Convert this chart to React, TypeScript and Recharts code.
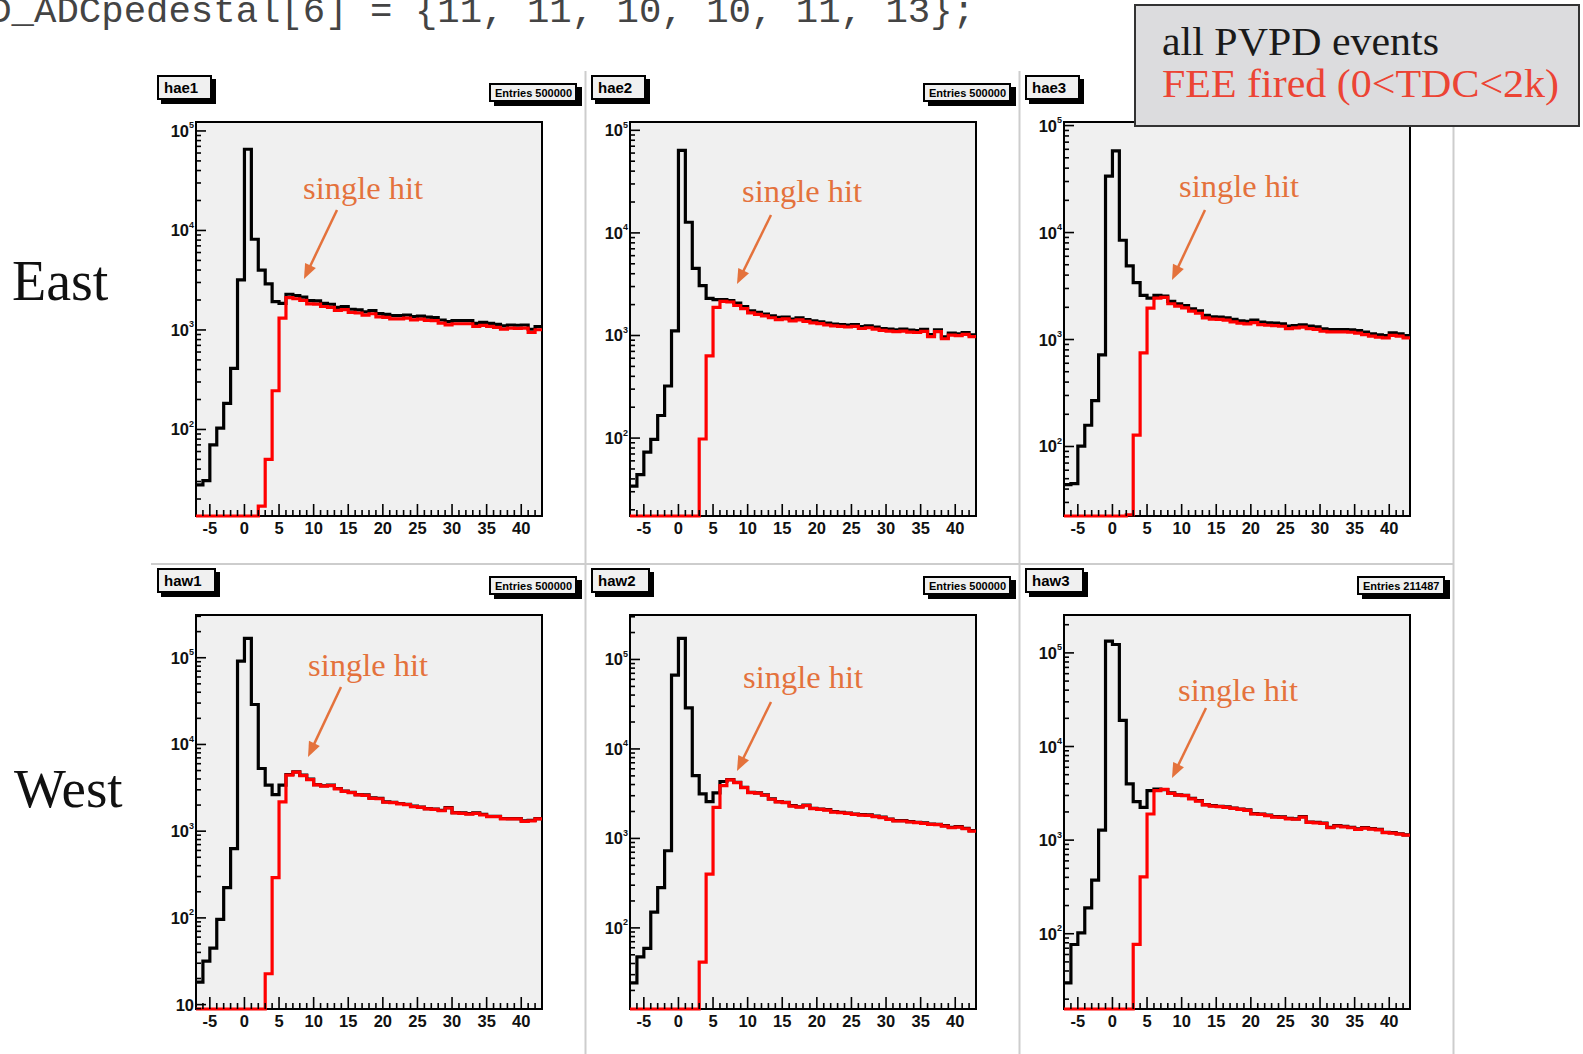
import React from "react";
import { LineChart, Line, XAxis, YAxis } from "recharts";

// low edges of the 50 ADC bins, plus the closing edge
const binEdges = [
  -7, -6, -5, -4, -3, -2, -1, 0, 1, 2, 3, 4, 5, 6, 7, 8, 9, 10, 11, 12, 13, 14, 15, 16, 17,
  18, 19, 20, 21, 22, 23, 24, 25, 26, 27, 28, 29, 30, 31, 32, 33, 34, 35, 36, 37, 38, 39, 40,
  41, 42, 43,
];
const xTicks = [
  -6, -5, -4, -3, -2, -1, 0, 1, 2, 3, 4, 5, 6, 7, 8, 9, 10, 11, 12, 13, 14, 15, 16, 17, 18,
  19, 20, 21, 22, 23, 24, 25, 26, 27, 28, 29, 30, 31, 32, 33, 34, 35, 36, 37, 38, 39, 40, 41, 42,
];
const mantissas = [1, 2, 3, 4, 5, 6, 7, 8, 9];

const hae1Black = [27.7, 30.6, 70, 103, 183, 412, 3180, 65500, 8160, 4000, 2900, 1930, 1850, 2285, 2213, 2133, 1970, 1963, 1854, 1812, 1690, 1715, 1614, 1588, 1517, 1565, 1458, 1437, 1392, 1392, 1414, 1361, 1380, 1343, 1333, 1259, 1211, 1240, 1240, 1240, 1167, 1194, 1167, 1140, 1097, 1122, 1115, 1122, 1016, 1081];
const hae1Red = [0, 0, 0, 0, 0, 0, 0, 0, 0, 17, 50, 245, 1312, 2110, 2060, 1980, 1830, 1820, 1720, 1690, 1570, 1600, 1500, 1480, 1410, 1455, 1355, 1335, 1295, 1295, 1315, 1265, 1285, 1250, 1240, 1170, 1125, 1155, 1155, 1155, 1085, 1110, 1085, 1060, 1020, 1045, 1035, 1045, 945, 1005];

const hae2Black = [34, 44, 73, 97, 166, 322, 1110, 63800, 12700, 4520, 3060, 2300, 2235, 2235, 2183, 2070, 1918, 1742, 1678, 1620, 1556, 1500, 1510, 1445, 1490, 1425, 1390, 1360, 1321, 1291, 1280, 1262, 1280, 1224, 1243, 1206, 1170, 1153, 1136, 1153, 1128, 1119, 1145, 1023, 1136, 971, 1054, 1037, 1070, 1015];
const hae2Red = [0, 0, 0, 0, 0, 0, 0, 0, 0, 0, 98, 632, 1880, 2150, 2120, 1960, 1830, 1660, 1610, 1550, 1490, 1430, 1450, 1390, 1420, 1370, 1330, 1305, 1265, 1240, 1225, 1210, 1225, 1170, 1190, 1155, 1120, 1105, 1090, 1105, 1080, 1070, 1095, 975, 1090, 930, 1010, 995, 1025, 975];

const hae3Black = [44, 45, 101, 158, 268, 718, 33700, 57900, 8470, 4870, 3400, 2586, 2440, 2586, 2550, 2270, 2158, 2080, 1937, 1855, 1679, 1630, 1620, 1597, 1540, 1497, 1475, 1518, 1453, 1432, 1422, 1400, 1334, 1353, 1373, 1334, 1313, 1259, 1240, 1240, 1240, 1230, 1212, 1171, 1130, 1106, 1090, 1155, 1130, 1090];
const hae3Red = [0, 0, 0, 0, 0, 0, 0, 0, 0, 23, 128, 750, 1967, 2440, 2480, 2160, 2050, 1975, 1840, 1760, 1595, 1550, 1540, 1515, 1460, 1420, 1400, 1440, 1380, 1360, 1350, 1330, 1265, 1285, 1305, 1265, 1245, 1195, 1180, 1180, 1180, 1170, 1150, 1110, 1075, 1050, 1035, 1095, 1075, 1035];

const haw1Black = [18.2, 31.7, 44.8, 96, 223, 630, 91600, 167000, 28900, 5280, 3390, 2645, 3390, 4505, 4830, 4420, 3975, 3450, 3340, 3390, 3105, 2900, 2812, 2645, 2615, 2416, 2390, 2175, 2150, 2085, 2040, 1940, 1900, 1822, 1800, 1740, 1870, 1640, 1622, 1590, 1622, 1560, 1486, 1486, 1400, 1397, 1397, 1312, 1330, 1397];
const haw1Red = [0, 0, 0, 0, 0, 0, 0, 0, 0, 0, 22.7, 291, 2175, 4420, 4800, 4380, 3940, 3420, 3310, 3360, 3075, 2870, 2785, 2620, 2590, 2390, 2365, 2155, 2130, 2065, 2020, 1920, 1880, 1805, 1780, 1720, 1850, 1625, 1605, 1575, 1605, 1545, 1470, 1470, 1385, 1383, 1383, 1300, 1315, 1383];

const haw2Black = [24.3, 47.5, 58.9, 150, 282, 728, 66700, 172000, 28700, 5040, 3140, 2578, 3230, 4325, 4550, 4245, 3733, 3280, 3230, 3063, 2763, 2578, 2533, 2323, 2260, 2355, 2170, 2130, 2095, 1990, 1955, 1923, 1875, 1845, 1830, 1770, 1727, 1648, 1580, 1580, 1540, 1514, 1490, 1449, 1437, 1390, 1328, 1352, 1295, 1219];
const haw2Red = [0, 0, 0, 0, 0, 0, 0, 0, 0, 0, 41.4, 398, 2225, 3895, 4510, 4200, 3700, 3250, 3200, 3035, 2740, 2555, 2510, 2300, 2240, 2330, 2150, 2110, 2075, 1970, 1935, 1905, 1855, 1825, 1810, 1750, 1710, 1630, 1565, 1565, 1525, 1500, 1475, 1435, 1423, 1375, 1315, 1340, 1282, 1207];

const haw3Black = [29.8, 76.7, 102, 189, 373, 1280, 133500, 123000, 19000, 3980, 2575, 2237, 3375, 3510, 3460, 3190, 3050, 3015, 2790, 2638, 2400, 2332, 2300, 2260, 2200, 2150, 2100, 1920, 1900, 1850, 1780, 1770, 1710, 1688, 1780, 1560, 1545, 1520, 1370, 1430, 1400, 1370, 1320, 1360, 1327, 1300, 1212, 1200, 1170, 1140];
const haw3Red = [0, 0, 0, 0, 0, 0, 0, 0, 0, 0, 77, 405, 1900, 3375, 3480, 3160, 3020, 2985, 2760, 2610, 2375, 2310, 2275, 2235, 2180, 2130, 2080, 1900, 1880, 1830, 1760, 1750, 1690, 1670, 1760, 1545, 1530, 1505, 1355, 1415, 1385, 1355, 1305, 1345, 1313, 1287, 1200, 1188, 1158, 1128];

const PAD_W = 434;
const PAD_H = 493;
const FRAME = { left: 45, top: 51, width: 346, height: 394 };
const Y_AXIS_W = 40;
const X_AXIS_H = 30;
const AXIS_FONT = "'Liberation Sans', Arial, sans-serif";
const SERIF = "'Liberation Serif', 'Times New Roman', serif";
const NOTE = "#e4723c";

const panels = [
  { name: "hae1", entries: "Entries 500000", left: 151, top: 71, yMin: 13.5, yMax: 123000, black: hae1Black, red: hae1Red,
    note: { tx: 152, ty: 128, x1: 186, y1: 139, x2: 153, y2: 208 } },
  { name: "hae2", entries: "Entries 500000", left: 585, top: 71, yMin: 17.4, yMax: 120500, black: hae2Black, red: hae2Red,
    note: { tx: 157, ty: 131, x1: 186, y1: 144, x2: 152, y2: 213 } },
  { name: "hae3", entries: "Entries 500000", left: 1019, top: 71, yMin: 22.4, yMax: 108000, black: hae3Black, red: hae3Red,
    note: { tx: 160, ty: 126, x1: 186, y1: 139, x2: 153, y2: 209 } },
  { name: "haw1", entries: "Entries 500000", left: 151, top: 564, yMin: 8.9, yMax: 311000, black: haw1Black, red: haw1Red,
    note: { tx: 157, ty: 112, x1: 190, y1: 123, x2: 157, y2: 193 } },
  { name: "haw2", entries: "Entries 500000", left: 585, top: 564, yMin: 12.4, yMax: 314000, black: haw2Black, red: haw2Red,
    note: { tx: 158, ty: 124, x1: 186, y1: 138, x2: 152, y2: 207 } },
  { name: "haw3", entries: "Entries 211487", left: 1019, top: 564, yMin: 15.7, yMax: 254000, black: haw3Black, red: haw3Red,
    note: { tx: 159, ty: 137, x1: 187, y1: 144, x2: 153, y2: 214 } },
];

function logTicks(lo: number, hi: number) {
  const out: number[] = [];
  for (let e = Math.floor(Math.log10(lo)); e <= Math.ceil(Math.log10(hi)); e++) {
    mantissas.forEach((m) => {
      const v = m * Math.pow(10, e);
      if (v >= lo && v <= hi) out.push(v);
    });
  }
  return out;
}

const XTick = (props: any) => {
  const { x, y, payload } = props;
  const v = payload.value;
  const major = v % 5 === 0;
  return (
    <g>
      <line x1={x} x2={x} y1={y} y2={y - (major ? 12 : 6)} stroke="#000" strokeWidth={1.6} />
      {major && (
        <text x={x} y={y + 18} textAnchor="middle" fontFamily={AXIS_FONT} fontWeight="bold" fontSize={16.5} fill="#111">
          {v}
        </text>
      )}
    </g>
  );
};

const YTick = (props: any) => {
  const { x, y, payload } = props;
  const v = payload.value;
  const e = Math.floor(Math.log10(v) + 1e-9);
  const major = Math.round(v / Math.pow(10, e)) === 1;
  return (
    <g>
      <line x1={x} x2={x + (major ? 10 : 5)} y1={y} y2={y} stroke="#000" strokeWidth={1.6} />
      {major && (
        <text x={x - 2} y={y + 6} textAnchor="end" fontFamily={AXIS_FONT} fontWeight="bold" fontSize={16.5} fill="#111">
          10
          {e !== 1 && (
            <tspan dy={-8.5} fontSize={9}>
              {e}
            </tspan>
          )}
        </text>
      )}
    </g>
  );
};

function Panel({ p }: { p: (typeof panels)[number] }) {
  const last = p.black.length - 1;
  const rows = binEdges.map((x, i) => {
    const k = Math.min(i, last);
    return { x, black: Math.max(p.black[k], p.yMin), red: Math.max(p.red[k], p.yMin) };
  });
  const yTicks = logTicks(p.yMin, p.yMax);
  const boxText = { fontFamily: AXIS_FONT, fontWeight: "bold" as const, color: "#000" };
  return (
    <div style={{ position: "absolute", left: p.left, top: p.top, width: PAD_W, height: PAD_H }}>
      <div
        style={{
          position: "absolute",
          left: FRAME.left - 1,
          top: FRAME.top - 1,
          width: FRAME.width + 2,
          height: FRAME.height + 2,
          boxSizing: "border-box",
          background: "#f0f0f0",
          border: "2px solid #000",
        }}
      />
      <div style={{ position: "absolute", left: 0, top: 0 }}>
        <LineChart
          width={PAD_W}
          height={PAD_H}
          data={rows}
          margin={{
            top: FRAME.top,
            left: FRAME.left - Y_AXIS_W,
            right: PAD_W - FRAME.left - FRAME.width,
            bottom: PAD_H - FRAME.top - FRAME.height - X_AXIS_H,
          }}
        >
          <XAxis
            dataKey="x"
            type="number"
            domain={[-7, 43]}
            ticks={xTicks}
            interval={0}
            height={X_AXIS_H}
            tickSize={0}
            tickMargin={0}
            axisLine={false}
            tickLine={false}
            tick={<XTick />}
          />
          <YAxis
            type="number"
            scale="log"
            domain={[p.yMin, p.yMax]}
            ticks={yTicks}
            interval={0}
            width={Y_AXIS_W}
            tickSize={0}
            tickMargin={0}
            axisLine={false}
            tickLine={false}
            tick={<YTick />}
          />
          <Line dataKey="black" type="stepAfter" stroke="#000" strokeWidth={3.2} dot={false} isAnimationActive={false} />
          <Line dataKey="red" type="stepAfter" stroke="#ff0000" strokeWidth={3.2} dot={false} isAnimationActive={false} />
        </LineChart>
      </div>
      {/* title box with shadow */}
      <div style={{ position: "absolute", left: 6, top: 4 }}>
        <div style={{ position: "absolute", left: 4, top: 4, right: -4, bottom: -4, background: "#000" }} />
        <div
          style={{
            ...boxText,
            position: "relative",
            fontSize: 15,
            lineHeight: "21px",
            padding: "0 12px 0 5px",
            background: "#f0f0f0",
            border: "2px solid #000",
            whiteSpace: "nowrap",
          }}
        >
          {p.name}
        </div>
      </div>
      {/* stats box */}
      <div style={{ position: "absolute", left: 338, top: 12, width: 88, height: 19 }}>
        <div style={{ position: "absolute", left: 5, top: 4, width: 88, height: 19, background: "#000" }} />
        <div
          style={{
            ...boxText,
            position: "absolute",
            left: 0,
            top: 0,
            width: 88,
            height: 19,
            boxSizing: "border-box",
            fontSize: 11,
            lineHeight: "16px",
            paddingLeft: 4,
            background: "#f0f0f0",
            border: "2px solid #000",
            whiteSpace: "nowrap",
            overflow: "hidden",
          }}
        >
          {p.entries}
        </div>
      </div>
    </div>
  );
}

function arrowHead(x1: number, y1: number, x2: number, y2: number) {
  const dx = x2 - x1;
  const dy = y2 - y1;
  const len = Math.hypot(dx, dy);
  const ux = dx / len;
  const uy = dy / len;
  const bx = x2 - ux * 15;
  const by = y2 - uy * 15;
  return `${x2},${y2} ${bx - uy * 6},${by + ux * 6} ${bx + uy * 6},${by - ux * 6}`;
}

export default function App() {
  return (
    <div style={{ position: "absolute", left: 0, top: 0, width: 1583, height: 1054, overflow: "hidden", background: "#fff" }}>
      {panels.map((p) => (
        <Panel key={p.name} p={p} />
      ))}
      <svg width={1583} height={1054} style={{ position: "absolute", left: 0, top: 0, pointerEvents: "none" }}>
        {/* pad separators */}
        {[585.5, 1019.5, 1453.5].map((x) => (
          <line key={x} x1={x} x2={x} y1={71} y2={1054} stroke="#cdcdcd" strokeWidth={2} />
        ))}
        <line x1={151} x2={1454} y1={564} y2={564} stroke="#cdcdcd" strokeWidth={2} />

        <text x={-78} y={22} fontFamily="'Liberation Mono', 'Courier New', monospace" fontSize={37} fill="#444" textLength={1053} lengthAdjust="spacingAndGlyphs">
          {"PVPD_ADCpedestal[6] = {11, 11, 10, 10, 11, 13};"}
        </text>

        <text x={12} y={300} fontFamily={SERIF} fontSize={56} fill="#111">East</text>
        <text x={14} y={807} fontFamily={SERIF} fontSize={55} fill="#111">West</text>

        {panels.map((p) => {
          const n = p.note;
          const x1 = p.left + n.x1;
          const y1 = p.top + n.y1;
          const x2 = p.left + n.x2;
          const y2 = p.top + n.y2;
          const len = Math.hypot(x2 - x1, y2 - y1);
          const ex = x2 - ((x2 - x1) / len) * 12;
          const ey = y2 - ((y2 - y1) / len) * 12;
          return (
            <g key={p.name + "-note"}>
              <text x={p.left + n.tx} y={p.top + n.ty} fontFamily={SERIF} fontSize={32} fill={NOTE} textLength={120} lengthAdjust="spacingAndGlyphs">
                single hit
              </text>
              <line x1={x1} y1={y1} x2={ex} y2={ey} stroke={NOTE} strokeWidth={2.5} />
              <polygon points={arrowHead(x1, y1, x2, y2)} fill={NOTE} />
            </g>
          );
        })}

        <rect x={1135} y={5} width={444} height={121} fill="#dcdcde" stroke="#333" strokeWidth={2} />
        <text x={1162} y={55} fontFamily={SERIF} fontSize={41} fill="#1a1a1a" textLength={277} lengthAdjust="spacingAndGlyphs">
          all PVPD events
        </text>
        <text x={1162} y={97} fontFamily={SERIF} fontSize={41} fill="#ec4434" textLength={397} lengthAdjust="spacingAndGlyphs">
          FEE fired (0&lt;TDC&lt;2k)
        </text>
      </svg>
    </div>
  );
}
